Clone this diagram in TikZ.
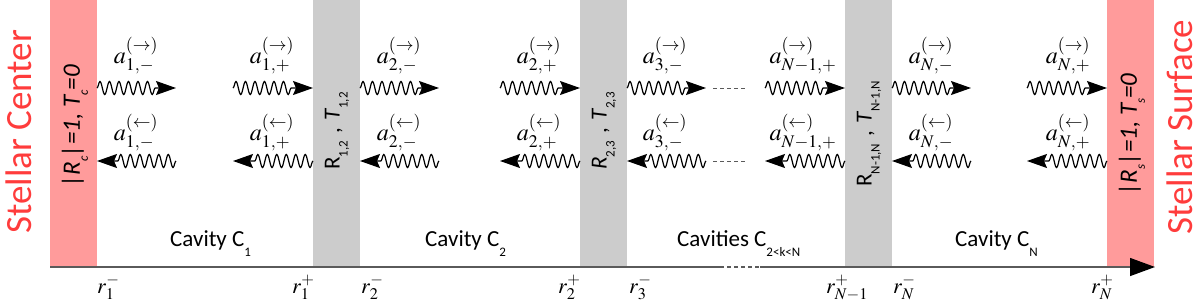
\documentclass[tikz,border=0pt]{standalone}
\usepackage{mathptmx}
\usepackage[no-math]{fontspec}
\setmainfont{Carlito}
\usetikzlibrary{decorations.pathmorphing,arrows.meta}
\definecolor{pinkc}{RGB}{255,155,155}
\definecolor{grayc}{RGB}{204,204,204}
\definecolor{redc}{RGB}{255,60,60}
\definecolor{axisc}{RGB}{90,90,90}
\newcommand\lsub[2][8pt]{\raisebox{-#1}{\fontsize{13}{13}\selectfont #2}}
\newcommand\gsep{\hspace{7pt},\hspace{7pt}}
\tikzset{
  wavy/.style={line width=1.2pt, decorate,
    decoration={snake, amplitude=6.5pt, segment length=9.5pt, post length=19pt},
    -{Stealth[length=20pt,width=14pt,inset=3pt]}},
  dashline/.style={line width=0.8pt, axisc, dash pattern=on 4pt off 3pt},
  axisline/.style={line width=1.3pt, axisc},
  lab/.style={font=\fontsize{24}{28}\selectfont, anchor=base, inner sep=0pt},
  rlab/.style={font=\fontsize{22}{26}\selectfont, anchor=base west, inner sep=0pt},
  cavlab/.style={font=\fontsize{23}{27}\selectfont, anchor=base west, inner sep=0pt},
  pinklab/.style={font=\fontsize{25}{28}\selectfont\itshape, rotate=90, inner sep=0pt},
  graylab/.style={font=\fontsize{23}{26}\selectfont, rotate=90, inner sep=0pt},
  starlab/.style={font=\fontsize{37}{40}\selectfont, text=redc, rotate=90, anchor=base west, inner sep=0pt}
}
\begin{document}
\begin{tikzpicture}[x=1pt,y=-1pt]
\useasboundingbox (0,0) rectangle (1200,303);
% bars
\fill[pinkc] (50,0) rectangle (97,267);
\fill[grayc] (313,0) rectangle (360,267);
\fill[grayc] (580,0) rectangle (627,267);
\fill[grayc] (845,0) rectangle (892,267);
\fill[pinkc] (1107,0) rectangle (1154,267);
% axis
\coordinate (ax0) at (50,267);
\coordinate (ax1) at (720,267);
\coordinate (ax2) at (760,267);
\coordinate (ax3) at (1155,267);
\draw[axisline] (ax0) -- (ax1);
\draw[axisline, dash pattern=on 4pt off 3pt] (ax1) -- (ax2);
\draw[axisline, -{Triangle[length=25pt,width=18pt,black]}] (ax2) -- (ax3);
% waves
\foreach \l/\r in {97/313,360/580,627/845,892/1107}{
  \draw[wavy] (\l,88) -- (\l+79,88);
  \draw[wavy] (\r-80,88) -- (\r,88);
  \draw[wavy] (\l+79,161) -- (\l,161);
  \draw[wavy] (\r,161) -- (\r-80,161);
}
\coordinate (d1a) at (713,88); \coordinate (d1b) at (747,88);
\coordinate (d2a) at (713,161); \coordinate (d2b) at (747,161);
\draw[dashline] (d1a) -- (d1b);
\draw[dashline] (d2a) -- (d2b);
% wave labels
\node[lab] (u1m) at (136,63) {$a^{(\rightarrow)}_{1,-}$};
\node[lab] (u1p) at (272,63) {$a^{(\rightarrow)}_{1,+}$};
\node[lab] (l1m) at (136,140) {$a^{(\leftarrow)}_{1,-}$};
\node[lab] (l1p) at (272,140) {$a^{(\leftarrow)}_{1,+}$};
\node[lab] (u2m) at (399,63) {$a^{(\rightarrow)}_{2,-}$};
\node[lab] (u2p) at (539,63) {$a^{(\rightarrow)}_{2,+}$};
\node[lab] (l2m) at (399,140) {$a^{(\leftarrow)}_{2,-}$};
\node[lab] (l2p) at (539,140) {$a^{(\leftarrow)}_{2,+}$};
\node[lab] (u3m) at (665,63) {$a^{(\rightarrow)}_{3,-}$};
\node[lab] (uNm1) at (803,63) {$a^{(\rightarrow)}_{N-1,+}$};
\node[lab] (l3m) at (665,140) {$a^{(\leftarrow)}_{3,-}$};
\node[lab] (lNm1) at (803,140) {$a^{(\leftarrow)}_{N-1,+}$};
\node[lab] (uNm) at (931,63) {$a^{(\rightarrow)}_{N,-}$};
\node[lab] (uNp) at (1068,63) {$a^{(\rightarrow)}_{N,+}$};
\node[lab] (lNm) at (931,140) {$a^{(\leftarrow)}_{N,-}$};
\node[lab] (lNp) at (1068,140) {$a^{(\leftarrow)}_{N,+}$};
% bar labels
\node[pinklab] (rc) at (75,126) {|R\lsub{c}|=1, T\lsub{c}=0};
\node[pinklab] (rs) at (1132,134) {|R\lsub{s}|=1, T\lsub{s}=0};
\node[graylab] (g12) at (337,131) {R\lsub{1,2}\gsep\textit{T}\lsub{1,2}};
\node[graylab] (g23) at (604,131) {\textit{R}\lsub{2,3}\gsep\textit{T}\lsub{2,3}};
\node[graylab] (gN) at (869,134) {R\lsub{N-1,N}\gsep\textit{T}\lsub{N-1,N}};
% stellar labels
\node[starlab] (sc) at (31,234) {Stellar Center};
\node[starlab] (ss) at (1192,235) {Stellar Surface};
% cavity labels
\node[cavlab] (c1) at (170,246) {Cavity C\lsub[10pt]{1}};
\node[cavlab] (c2) at (425,246) {Cavity C\lsub[10pt]{2}};
\node[cavlab] (ck) at (677,246) {Cavities C\lsub[10pt]{2<k<N}};
\node[cavlab] (cN) at (955,246) {Cavity C\lsub[10pt]{N}};
% radius labels
\node[rlab] (r1m) at (97,293) {$r_1^-$};
\node[rlab] (r1p) at (292,293) {$r_1^+$};
\node[rlab] (r2m) at (361,293) {$r_2^-$};
\node[rlab] (r2p) at (558,293) {$r_2^+$};
\node[rlab] (r3m) at (629,293) {$r_3^-$};
\node[rlab] (rNm1p) at (826,293) {$r_{N-1}^+$};
\node[rlab] (rNm) at (893,293) {$r_N^-$};
\node[rlab] (rNp) at (1091,293) {$r_N^+$};
\end{tikzpicture}
\end{document}
